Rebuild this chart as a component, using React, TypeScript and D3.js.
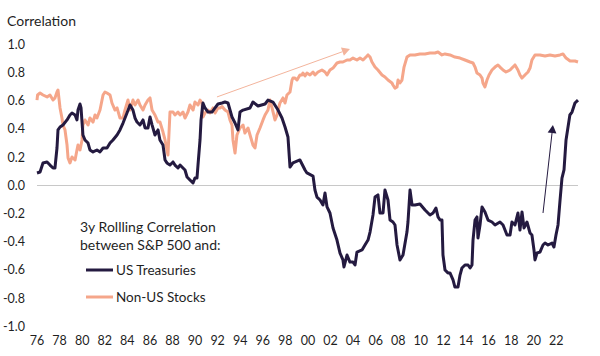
import React from "react";
import * as d3 from "d3";

const treasuryYears = [1976.00,1976.27,1976.53,1976.89,1977.15,1977.42,1977.59,1977.77,1977.86,1978.04,1978.30,1978.66,1978.92,1979.10,1979.37,1979.54,1979.63,1979.81,1979.90,1980.07,1980.25,1980.52,1980.69,1980.96,1981.31,1981.58,1981.85,1982.20,1982.47,1982.73,1983.09,1983.35,1983.62,1983.97,1984.24,1984.50,1984.68,1984.86,1985.12,1985.39,1985.57,1985.83,1986.01,1986.19,1986.45,1986.72,1986.89,1987.16,1987.34,1987.51,1987.78,1988.05,1988.22,1988.49,1988.67,1988.93,1989.11,1989.29,1989.55,1989.82,1989.99,1990.17,1990.26,1990.44,1990.53,1990.70,1990.88,1991.15,1991.50,1991.77,1992.03,1992.39,1992.65,1992.92,1993.27,1993.54,1993.80,1993.98,1994.25,1994.87,1995.13,1995.58,1996.20,1996.46,1996.90,1997.35,1997.70,1997.97,1998.23,1998.41,1998.67,1999.29,1999.74,1999.91,2000.45,2000.62,2000.80,2001.07,2001.33,2001.51,2001.69,2001.95,2002.22,2002.57,2002.84,2003.10,2003.19,2003.46,2003.72,2003.99,2004.17,2004.34,2004.79,2005.05,2005.32,2005.50,2005.76,2005.94,2006.20,2006.38,2006.65,2006.82,2007.09,2007.27,2007.53,2007.71,2007.89,2008.15,2008.42,2008.77,2008.86,2009.04,2009.22,2009.48,2009.92,2010.37,2010.81,2011.08,2011.34,2011.52,2011.70,2011.87,2011.96,2012.14,2012.40,2012.58,2012.85,2013.02,2013.29,2013.47,2013.64,2013.91,2014.18,2014.36,2014.53,2014.62,2014.80,2014.97,2015.06,2015.24,2015.42,2015.68,2015.95,2016.30,2016.57,2017.01,2017.28,2017.63,2017.90,2018.07,2018.34,2018.60,2018.78,2018.96,2019.14,2019.40,2019.67,2019.84,2020.02,2020.11,2020.29,2020.55,2020.82,2021.00,2021.26,2021.62,2021.79,2021.97,2022.15,2022.33,2022.50,2022.68,2022.86,2023.20,2023.39,2023.65,2023.92];
const treasuryValues = [0.089,0.096,0.16,0.167,0.145,0.124,0.124,0.266,0.394,0.415,0.429,0.465,0.5,0.514,0.5,0.465,0.535,0.578,0.55,0.358,0.323,0.301,0.252,0.238,0.252,0.238,0.266,0.266,0.301,0.323,0.358,0.394,0.443,0.514,0.571,0.535,0.479,0.45,0.429,0.465,0.408,0.408,0.486,0.43,0.358,0.394,0.323,0.287,0.181,0.16,0.145,0.167,0.145,0.124,0.145,0.124,0.11,0.06,0.039,0.018,0.053,0.053,0.145,0.323,0.465,0.585,0.55,0.521,0.521,0.55,0.578,0.585,0.592,0.585,0.486,0.443,0.394,0.521,0.535,0.55,0.592,0.564,0.578,0.606,0.592,0.535,0.479,0.415,0.344,0.131,0.16,0.181,0.11,0.089,0.067,-0.032,-0.082,-0.103,-0.138,-0.053,-0.152,-0.195,-0.301,-0.387,-0.479,-0.528,-0.578,-0.493,-0.543,-0.543,-0.564,-0.472,-0.457,-0.422,-0.387,-0.33,-0.209,-0.082,-0.067,-0.195,-0.195,-0.032,-0.103,-0.245,-0.259,-0.28,-0.422,-0.528,-0.493,-0.33,-0.259,-0.032,-0.138,-0.138,-0.131,-0.174,-0.209,-0.195,-0.16,-0.223,-0.245,-0.245,-0.493,-0.599,-0.62,-0.62,-0.67,-0.72,-0.72,-0.635,-0.585,-0.564,-0.564,-0.585,-0.564,-0.387,-0.245,-0.223,-0.372,-0.28,-0.152,-0.188,-0.245,-0.259,-0.28,-0.259,-0.28,-0.351,-0.351,-0.259,-0.28,-0.195,-0.316,-0.188,-0.301,-0.259,-0.337,-0.351,-0.457,-0.528,-0.479,-0.472,-0.422,-0.408,-0.422,-0.408,-0.436,-0.351,-0.28,-0.103,0.053,0.11,0.323,0.5,0.521,0.585,0.606];

const nonUsYears = [1976.00,1976.05,1976.27,1976.53,1976.89,1977.15,1977.42,1977.59,1977.77,1977.86,1978.04,1978.21,1978.30,1978.48,1978.66,1978.75,1978.92,1979.10,1979.37,1979.54,1979.63,1979.81,1979.99,1980.07,1980.25,1980.52,1980.69,1980.96,1981.14,1981.31,1981.58,1981.85,1982.02,1982.20,1982.47,1982.64,1982.91,1983.09,1983.35,1983.62,1983.79,1984.06,1984.24,1984.50,1984.68,1984.95,1985.12,1985.39,1985.57,1985.83,1986.01,1986.19,1986.45,1986.72,1986.89,1987.16,1987.34,1987.51,1987.60,1987.78,1988.05,1988.22,1988.49,1988.67,1988.93,1989.11,1989.37,1989.55,1989.82,1989.99,1990.26,1990.44,1990.61,1990.70,1990.88,1991.15,1991.32,1991.59,1991.77,1992.03,1992.21,1992.39,1992.65,1992.92,1993.09,1993.27,1993.36,1993.54,1993.71,1993.98,1994.25,1994.42,1994.69,1994.87,1995.13,1995.31,1995.49,1995.75,1996.02,1996.20,1996.46,1996.64,1996.82,1997.08,1997.26,1997.35,1997.52,1997.79,1997.97,1998.14,1998.41,1998.59,1998.67,1998.85,1999.03,1999.29,1999.47,1999.56,1999.74,1999.91,2000.18,2000.45,2000.62,2000.89,2001.24,2001.51,2001.69,2001.95,2002.22,2002.57,2002.84,2003.10,2003.46,2003.72,2003.99,2004.34,2004.61,2004.88,2005.23,2005.32,2005.50,2005.67,2005.94,2006.20,2006.56,2006.82,2007.09,2007.44,2007.53,2007.71,2007.89,2007.98,2008.15,2008.33,2008.51,2008.77,2009.04,2009.48,2009.92,2010.37,2010.81,2011.25,2011.52,2011.87,2012.14,2012.58,2013.02,2013.47,2013.91,2014.36,2014.62,2014.80,2014.97,2015.24,2015.42,2015.50,2015.68,2015.86,2016.04,2016.30,2016.57,2016.83,2017.01,2017.28,2017.54,2017.90,2018.07,2018.34,2018.60,2018.78,2018.96,2019.22,2019.49,2019.67,2019.84,2020.11,2020.55,2021.00,2021.44,2021.88,2022.33,2022.59,2022.86,2023.22,2023.65,2023.92];
const nonUsValues = [0.606,0.642,0.656,0.642,0.628,0.642,0.606,0.621,0.663,0.677,0.55,0.479,0.429,0.394,0.287,0.195,0.16,0.202,0.181,0.252,0.287,0.252,0.323,0.429,0.465,0.429,0.479,0.45,0.5,0.479,0.535,0.642,0.663,0.656,0.642,0.585,0.535,0.55,0.479,0.479,0.535,0.606,0.535,0.606,0.571,0.606,0.571,0.535,0.571,0.606,0.621,0.535,0.5,0.45,0.45,0.379,0.323,0.252,0.216,0.521,0.521,0.5,0.521,0.5,0.521,0.479,0.521,0.571,0.535,0.592,0.571,0.606,0.585,0.486,0.514,0.535,0.514,0.55,0.514,0.55,0.55,0.56,0.535,0.521,0.465,0.429,0.323,0.23,0.358,0.408,0.429,0.372,0.408,0.358,0.287,0.266,0.358,0.408,0.465,0.5,0.535,0.606,0.55,0.465,0.5,0.535,0.585,0.621,0.585,0.642,0.663,0.748,0.762,0.762,0.748,0.784,0.784,0.798,0.777,0.798,0.784,0.805,0.784,0.805,0.819,0.805,0.784,0.819,0.833,0.869,0.876,0.876,0.89,0.89,0.904,0.89,0.904,0.89,0.918,0.926,0.911,0.876,0.84,0.819,0.784,0.77,0.748,0.727,0.713,0.691,0.699,0.748,0.727,0.748,0.84,0.911,0.926,0.926,0.933,0.933,0.94,0.94,0.947,0.926,0.933,0.926,0.911,0.904,0.89,0.876,0.869,0.84,0.798,0.784,0.762,0.727,0.699,0.748,0.784,0.819,0.84,0.855,0.84,0.819,0.805,0.819,0.833,0.855,0.819,0.784,0.762,0.784,0.805,0.833,0.89,0.926,0.926,0.918,0.926,0.918,0.926,0.933,0.904,0.883,0.883,0.876];

const yTicks = [1.0, 0.8, 0.6, 0.4, 0.2, 0.0, -0.2, -0.4, -0.6, -0.8, -1.0];
const xTickYears = d3.range(1976, 2023, 2);

// annotation arrows: [startYear, startValue, endYear, endValue]
const orangeArrow = [1991.94, 0.628, 2003.72, 0.968];
const darkArrow = [2020.82, -0.195, 2021.7, 0.429];

const DARK = "#241a40";
const ORANGE = "#f5a68a";
const FONT = "Lato, 'Open Sans', sans-serif";
const TEXT = "#1f1f1f";

export default function App() {
  const W = 600, H = 356;
  const x = d3.scaleLinear().domain([1976, 2023.92]).range([37, 578]);
  const y = d3.scaleLinear().domain([-1, 1]).range([326.5, 44.5]);
  const line = d3.line<[number, number]>().x(d => x(d[0])).y(d => y(d[1]));
  const tre = treasuryYears.map((t, i) => [t, treasuryValues[i]] as [number, number]);
  const nus = nonUsYears.map((t, i) => [t, nonUsValues[i]] as [number, number]);

  const arrow = (a: number[], color: string, width: number, head: number) => {
    const x1 = x(a[0]), y1 = y(a[1]), x2 = x(a[2]), y2 = y(a[3]);
    const ang = Math.atan2(y2 - y1, x2 - x1);
    const hw = head * 0.55;
    const bx = x2 - head * Math.cos(ang), by = y2 - head * Math.sin(ang);
    const p1 = [bx + hw * Math.sin(ang), by - hw * Math.cos(ang)];
    const p2 = [bx - hw * Math.sin(ang), by + hw * Math.cos(ang)];
    return (
      <g>
        <line x1={x1} y1={y1} x2={bx} y2={by} stroke={color} strokeWidth={width} />
        <polygon points={`${x2},${y2} ${p1[0]},${p1[1]} ${p2[0]},${p2[1]}`} fill={color} />
      </g>
    );
  };

  return (
    <svg width={W} height={H} style={{ position: "absolute", left: 0, top: 0, background: "#fff" }} fontFamily={FONT}>
      <rect width={W} height={H} fill="#fff" />
      <text x={7} y={26} fontSize={14} fill={TEXT}>Correlation</text>
      {yTicks.map(v => (
        <text key={v} x={25} y={y(v)} dy="0.35em" textAnchor="end" fontSize={12.5} fill={TEXT}>{v.toFixed(1)}</text>
      ))}
      {xTickYears.map(t => (
        <text key={t} x={x(t)} y={345} textAnchor="middle" fontSize={12.5} fill={TEXT}>{String(t % 100).padStart(2, "0")}</text>
      ))}
      <line x1={x(1976)} x2={x(2023.92)} y1={y(0)} y2={y(0)} stroke="#c8c8c8" strokeWidth={1} />
      <path d={line(nus) || ""} fill="none" stroke={ORANGE} strokeWidth={3} strokeLinejoin="round" />
      <path d={line(tre) || ""} fill="none" stroke={DARK} strokeWidth={3} strokeLinejoin="round" />
      {arrow(orangeArrow, "#f3b49c", 1, 8)}
      {arrow(darkArrow, DARK, 1, 8)}
      <text x={80} y={232} fontSize={14} fill={TEXT}>3y Rollling Correlation</text>
      <text x={80} y={250} fontSize={14} fill={TEXT}>between S&amp;P 500 and:</text>
      <line x1={86} x2={113} y1={270} y2={270} stroke={DARK} strokeWidth={3} />
      <text x={116} y={275} fontSize={13.5} fill={TEXT}>US Treasuries</text>
      <line x1={86} x2={113} y1={297} y2={297} stroke={ORANGE} strokeWidth={3} />
      <text x={116} y={302} fontSize={13.5} fill={TEXT}>Non-US Stocks</text>
    </svg>
  );
}
